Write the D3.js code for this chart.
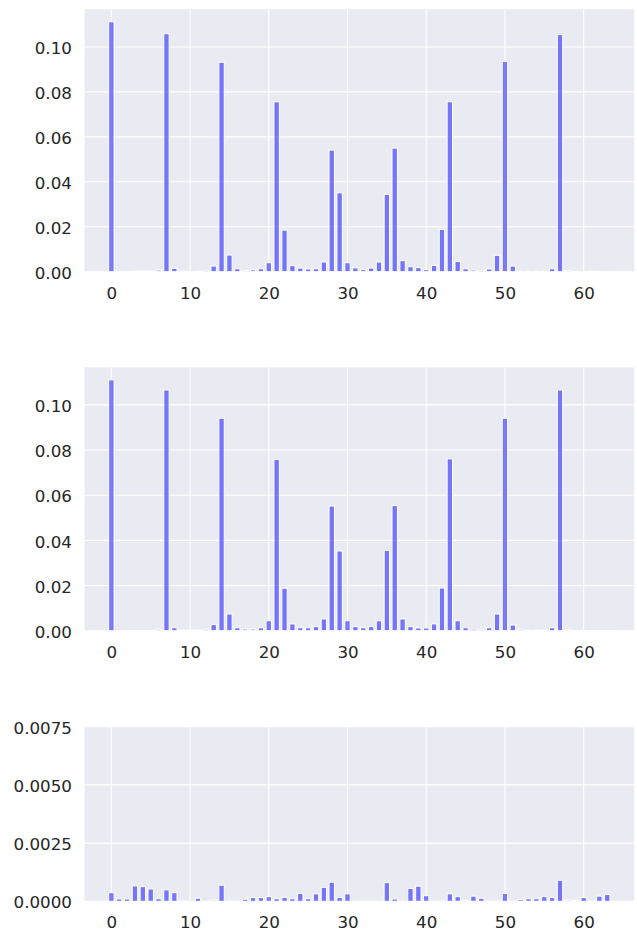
<!DOCTYPE html>
<html>
<head>
<meta charset="utf-8">
<script src="https://cdn.jsdelivr.net/npm/d3@7"></script>
<style>
  body { margin: 0; background: #fff; }
  text { font-family: "DejaVu Sans", sans-serif; }
</style>
</head>
<body>
<div id="chart"></div>
<script>
// bin index 0..63
const bins = d3.range(64);

// top panel
const probsA = [
  0.1112, 0.0001, 0.0001, 0.0004, 0.0004, 0.0004, 0.0007, 0.1059,
  0.0015, 0.0002, 0.0001, 0.0002, 0.0006, 0.0025, 0.0932, 0.0074,
  0.0013, 0.0005, 0.0008, 0.0013, 0.0040, 0.0756, 0.0185, 0.0027,
  0.0016, 0.0012, 0.0013, 0.0043, 0.0541, 0.0351, 0.0040, 0.0017,
  0.0009, 0.0016, 0.0043, 0.0344, 0.0550, 0.0049, 0.0022, 0.0018,
  0.0009, 0.0028, 0.0188, 0.0756, 0.0046, 0.0013, 0.0007, 0.0006,
  0.0012, 0.0073, 0.0936, 0.0025, 0.0004, 0.0002, 0.0002, 0.0003,
  0.0013, 0.1055, 0.0005, 0.0002, 0.0001, 0.0002, 0.0001, 0.0001
];

// middle panel
const probsB = [
  0.1111, 0.0001, 0.0001, 0.0001, 0.0001, 0.0001, 0.0006, 0.1066,
  0.0013, 0.0003, 0.0003, 0.0004, 0.0006, 0.0027, 0.0941, 0.0074,
  0.0013, 0.0007, 0.0007, 0.0013, 0.0044, 0.0759, 0.0188, 0.0030,
  0.0013, 0.0013, 0.0018, 0.0052, 0.0552, 0.0353, 0.0044, 0.0018,
  0.0013, 0.0018, 0.0044, 0.0355, 0.0554, 0.0052, 0.0018, 0.0012,
  0.0012, 0.0030, 0.0189, 0.0761, 0.0044, 0.0013, 0.0007, 0.0006,
  0.0013, 0.0074, 0.0941, 0.0025, 0.0006, 0.0002, 0.0002, 0.0003,
  0.0013, 0.1066, 0.0005, 0.0001, 0.0001, 0.0001, 0.0001, 0.0001
];

// bottom panel (difference)
const probsC = [
  0.00037, 0.00010, 0.00010, 0.00066, 0.00063, 0.00053, 0.00011, 0.00049,
  0.00037, 0.00001, 0.00002, 0.00013, 0.00000, 0.00005, 0.00069, 0.00000,
  0.00001, 0.00009, 0.00016, 0.00016, 0.00020, 0.00011, 0.00017, 0.00011,
  0.00034, 0.00011, 0.00032, 0.00060, 0.00082, 0.00016, 0.00032, 0.00000,
  0.00001, 0.00001, 0.00002, 0.00080, 0.00010, 0.00000, 0.00055, 0.00065,
  0.00024, 0.00000, 0.00001, 0.00032, 0.00020, 0.00004, 0.00022, 0.00013,
  0.00001, 0.00001, 0.00034, 0.00000, 0.00007, 0.00011, 0.00011, 0.00020,
  0.00016, 0.00090, 0.00005, 0.00004, 0.00016, 0.00001, 0.00022, 0.00029
];

const xTicks = [0, 10, 20, 30, 40, 50, 60];
const yTicksA = [0, 0.02, 0.04, 0.06, 0.08, 0.10];
const yTicksC = [0, 0.0025, 0.005, 0.0075];

const W = 637, H = 933;
const left = 84.4, right = 634.2;
const barW = 0.68;
const fontSize = 16.7;

const svg = d3.select("#chart").append("svg")
  .attr("width", W)
  .attr("height", H);

// x scale shared by all panels, 5% margin
const xLo = -0.25, xHi = 63.25;
const xPad = (xHi - xLo) * 0.05;
const x = d3.scaleLinear()
  .domain([xLo - xPad, xHi + xPad])
  .range([left, right]);

const panels = [
  { vals: probsA, top: 9.3, bottom: 271.7, ymax: d3.max(probsA) * 1.05, ticks: yTicksA, fmt: d3.format(".2f") },
  { vals: probsB, top: 367.3, bottom: 630.7, ymax: d3.max(probsB) * 1.05, ticks: yTicksA, fmt: d3.format(".2f") },
  { vals: probsC, top: 726.7, bottom: 901.3, ymax: 0.0075, ticks: yTicksC, fmt: d3.format(".4f") }
];

panels.forEach(p => {
  const y = d3.scaleLinear()
    .domain([0, p.ymax])
    .range([p.bottom, p.top]);

  const g = svg.append("g");

  g.append("rect")
    .attr("x", left)
    .attr("y", p.top)
    .attr("width", right - left)
    .attr("height", p.bottom - p.top)
    .attr("fill", "#eaeaf2");

  // grid lines
  g.selectAll(".gx").data(xTicks).join("line")
    .attr("x1", d => x(d)).attr("x2", d => x(d))
    .attr("y1", p.top).attr("y2", p.bottom)
    .attr("stroke", "#fff").attr("stroke-width", 1.1);
  g.selectAll(".gy").data(p.ticks).join("line")
    .attr("x1", left).attr("x2", right)
    .attr("y1", d => y(d)).attr("y2", d => y(d))
    .attr("stroke", "#fff").attr("stroke-width", 1.1);

  // bars
  g.selectAll(".bar").data(bins).join("rect")
    .attr("x", i => x(i - barW / 2))
    .attr("width", x(barW) - x(0))
    .attr("y", i => y(p.vals[i]))
    .attr("height", i => y(0) - y(p.vals[i]))
    .attr("fill", "rgba(0,0,255,0.5)")
    .attr("stroke", "#fff")
    .attr("stroke-width", 1);

  // tick labels
  const xAxis = d3.axisBottom(x).tickValues(xTicks).tickSize(0).tickPadding(15);
  const ax = g.append("g")
    .attr("transform", `translate(0,${p.bottom})`)
    .call(xAxis);
  ax.select(".domain").remove();
  ax.selectAll("text")
    .attr("font-size", fontSize)
    .attr("fill", "#262626");

  const yAxis = d3.axisLeft(y).tickValues(p.ticks).tickFormat(p.fmt).tickSize(0).tickPadding(12.5);
  const ay = g.append("g")
    .attr("transform", `translate(${left},0)`)
    .call(yAxis);
  ay.select(".domain").remove();
  ay.selectAll("text")
    .attr("font-size", fontSize)
    .attr("dy", "0.4em")
    .attr("fill", "#262626");
});
</script>
</body>
</html>
